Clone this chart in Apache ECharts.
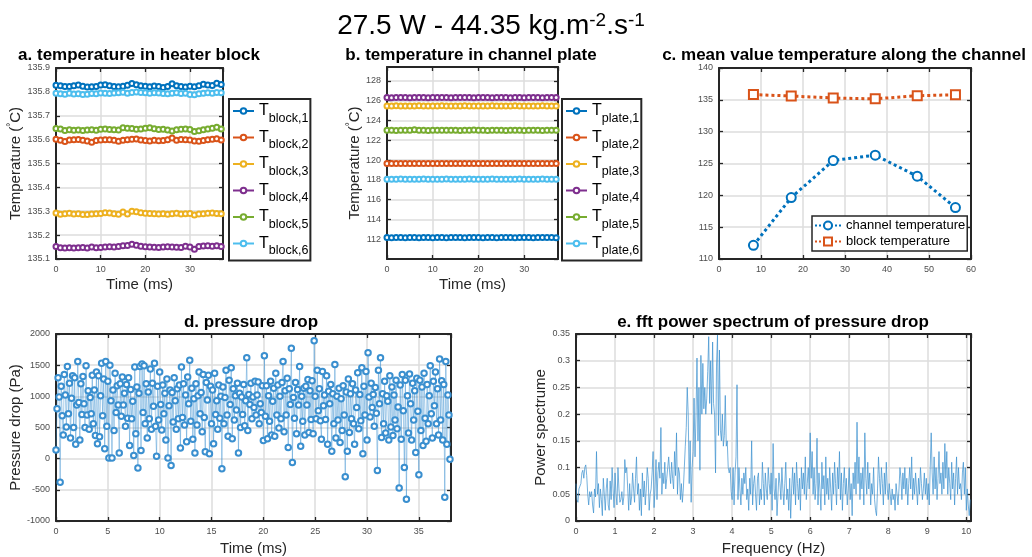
<!DOCTYPE html>
<html>
<head>
<meta charset="utf-8">
<script src="https://cdn.jsdelivr.net/npm/echarts@6/dist/echarts.min.js"></script>
<style>
  html, body { margin: 0; padding: 0; background: #ffffff; }
  #chart { width: 1032px; height: 557px; }
</style>
</head>
<body>
<div id="chart"></div>
<script>
// ---------- data ----------
const sampleTimesMs = [0,1,2,3,4,5,6,7,8,9,10,11,12,13,14,15,16,17,18,19,20,21,22,23,24,25,26,27,28,29,30,31,32,33,34,35,36,37];

const blockNames = ['block,1','block,2','block,3','block,4','block,5','block,6'];
const blockT1 = [135.828,135.826,135.823,135.822,135.826,135.829,135.824,135.820,135.821,135.823,135.829,135.830,135.826,135.823,135.821,135.824,135.828,135.835,135.830,135.826,135.824,135.821,135.825,135.822,135.818,135.822,135.834,135.826,135.822,135.820,135.824,135.821,135.826,135.832,135.829,135.827,135.836,135.831];
const blockT2 = [135.602,135.597,135.592,135.598,135.600,135.601,135.597,135.594,135.589,135.596,135.598,135.600,135.600,135.597,135.593,135.597,135.599,135.602,135.603,135.598,135.596,135.594,135.597,135.595,135.596,135.600,135.607,135.597,135.601,135.599,135.598,135.594,135.593,135.596,135.599,135.602,135.604,135.598];
const blockT3 = [135.293,135.287,135.290,135.292,135.289,135.290,135.286,135.286,135.288,135.290,135.291,135.294,135.293,135.290,135.287,135.297,135.289,135.300,135.298,135.294,135.292,135.291,135.290,135.288,135.290,135.287,135.290,135.292,135.288,135.290,135.291,135.284,135.289,135.290,135.292,135.293,135.291,135.290];
const blockT4 = [135.152,135.147,135.146,135.147,135.146,135.147,135.148,135.146,135.150,135.147,135.148,135.150,135.151,135.150,135.152,135.155,135.157,135.162,135.158,135.153,135.151,135.150,135.149,135.148,135.150,135.151,135.150,135.149,135.148,135.153,135.150,135.141,135.152,135.154,135.155,135.153,135.155,135.152];
const blockT5 = [135.647,135.645,135.638,135.641,135.639,135.640,135.638,135.640,135.641,135.639,135.643,135.644,135.642,135.641,135.640,135.650,135.648,135.647,135.643,135.645,135.648,135.650,135.646,135.642,135.643,135.640,135.636,135.641,135.643,135.645,135.642,135.634,135.637,135.641,135.645,135.648,135.652,135.645];
const blockT6 = [135.794,135.792,135.790,135.794,135.791,135.792,135.789,135.790,135.793,135.792,135.795,135.794,135.793,135.795,135.796,135.798,135.794,135.797,135.799,135.797,135.796,135.794,135.796,135.795,135.793,135.792,135.794,135.796,135.793,135.794,135.789,135.788,135.792,135.794,135.796,135.794,135.797,135.796];

const plateNames = ['plate,1','plate,2','plate,3','plate,4','plate,5','plate,6'];
const plateT1 = [112.16,112.15,112.17,112.16,112.14,112.16,112.17,112.15,112.16,112.16,112.15,112.17,112.16,112.15,112.16,112.17,112.16,112.15,112.16,112.17,112.16,112.15,112.16,112.16,112.15,112.17,112.16,112.16,112.15,112.16,112.17,112.16,112.15,112.16,112.16,112.17,112.16,112.15];
const plateT2 = [119.66,119.65,119.64,119.66,119.65,119.66,119.65,119.64,119.65,119.66,119.65,119.65,119.66,119.64,119.65,119.66,119.65,119.65,119.66,119.65,119.64,119.65,119.66,119.65,119.65,119.64,119.66,119.65,119.65,119.66,119.65,119.64,119.65,119.66,119.65,119.65,119.66,119.65];
const plateT3 = [125.47,125.46,125.48,125.47,125.47,125.46,125.47,125.48,125.47,125.46,125.47,125.47,125.48,125.47,125.46,125.47,125.47,125.48,125.47,125.46,125.47,125.47,125.46,125.48,125.47,125.47,125.46,125.47,125.48,125.47,125.47,125.46,125.47,125.47,125.48,125.47,125.46,125.47];
const plateT4 = [126.31,126.30,126.32,126.31,126.31,126.30,126.31,126.32,126.31,126.30,126.31,126.32,126.31,126.31,126.30,126.31,126.32,126.31,126.31,126.30,126.32,126.31,126.31,126.30,126.31,126.31,126.32,126.30,126.31,126.31,126.30,126.32,126.31,126.31,126.30,126.31,126.32,126.31];
const plateT5 = [123.00,123.01,122.99,123.00,123.02,123.01,123.05,123.02,123.00,122.99,123.00,123.01,123.00,123.02,123.01,123.00,122.99,123.01,123.02,123.03,123.01,123.00,122.99,123.00,123.01,123.00,122.99,123.01,123.00,123.02,122.99,123.00,123.01,123.00,122.99,123.01,123.00,123.00];
const plateT6 = [118.07,118.06,118.07,118.08,118.07,118.06,118.07,118.07,118.08,118.06,118.07,118.07,118.06,118.08,118.07,118.07,118.06,118.07,118.08,118.07,118.06,118.07,118.07,118.08,118.07,118.06,118.07,118.07,118.06,118.08,118.07,118.07,118.06,118.07,118.08,118.07,118.06,118.07];

// positions along the channel (mm) and mean temperatures there
const channelPositions = [8.2, 17.2, 27.2, 37.2, 47.2, 56.3];
const channelMeanTemp = [112.15, 119.65, 125.47, 126.31, 123.00, 118.07];
const blockMeanTemp = [135.826, 135.598, 135.290, 135.151, 135.643, 135.794];

// pressure drop samples (Pa), one every PRESSURE_STEP_MS
const PRESSURE_STEP_MS = 0.1;
const pressureDropPa = [
  140,800,1300,990,-380,1160,690,380,1350,1020,510,1480,720,1210,330,970,1330,500,1300,230,
  860,1560,900,300,1200,710,1320,880,500,1490,700,1090,470,980,720,1340,560,1100,370,1390,
  240,1330,350,1010,1530,690,1280,160,1560,520,1240,10,1500,930,10,1100,450,1370,740,1170,
  860,90,1200,680,1310,860,1050,520,1190,650,1300,210,1110,640,920,50,1470,400,1150,-150,
  1050,1480,130,1520,740,1490,560,1200,330,1070,640,1440,470,1210,840,1530,520,40,1160,620,
  1390,870,460,1180,720,1050,300,1280,10,850,1100,-110,1060,590,1300,930,470,1120,640,1180,
  170,1470,660,1200,540,1020,270,1310,880,1580,600,1130,310,960,90,1200,540,1010,1390,720,
  1060,430,1350,660,110,1220,940,1340,80,1160,560,1100,240,1370,710,930,470,1180,650,1000,
  -160,1150,560,980,1420,700,360,1260,870,1460,320,1120,620,1010,780,1210,90,1050,500,990,
  710,1190,530,930,1620,450,1030,870,1210,640,990,820,1240,700,1020,1230,560,880,740,1170,
  290,1650,680,1170,320,1010,600,1240,380,920,1130,360,1370,700,1180,490,1000,640,1220,1560,
  430,1090,700,1290,180,1120,870,1770,-60,980,650,1220,400,1110,860,1480,200,1000,600,1130,
  380,1160,860,1270,420,1090,630,1250,400,1890,1000,640,1420,770,1120,610,310,1400,850,1020,
  630,1330,230,1080,880,1190,120,1040,560,1510,330,1000,620,1130,260,960,450,1170,700,-290,
  1070,120,1280,420,1040,640,1200,560,230,1100,820,1380,480,1030,610,1460,80,1160,700,1400,
  300,1700,990,670,1210,820,1030,520,1140,730,-190,1420,880,1620,340,1040,560,1240,410,1010,
  920,300,1330,510,1150,370,1020,620,1260,480,830,-470,1180,310,1350,770,-140,1260,-650,1010,
  410,1360,880,300,1210,620,1090,100,1290,760,-260,1260,450,1150,210,1370,650,280,1190,560,
  1010,1490,720,330,1240,850,1390,560,1120,380,1600,620,1250,300,1190,-620,1560,230,1020,700,
  -10
];

// power spectrum of the pressure drop, one bin every FFT_STEP_HZ
const FFT_STEP_HZ = 0.025;
const powerSpectrum = [
  0.07,0.04,0.035,0.06,0.065,0.07,0.09,0.095,0.08,0.1,0.105,0.085,0.05,0.03,0.055,0.045,0.055,0.03,0.015,0.06,
  0.045,0.13,0.05,0.07,0.025,0.06,0.04,0.01,0.08,0.05,0.02,0.06,0.08,0.03,0.02,0.075,0.04,0.1,0.06,0.025,
  0.09,0.05,0.03,0.1,0.06,0.035,0.04,0.055,0.03,0.045,0.115,0.09,0.1,0.06,0.02,0.07,0.03,0.045,0.09,0.06,
  0.035,0.08,0.12,0.05,0.07,0.02,0.06,0.01,0.09,0.045,0.075,0.03,0.06,0.1,0.08,0.02,0.05,0.06,0.09,0.13,
  0.025,0.06,0.115,0.04,0.09,0.11,0.08,0.175,0.05,0.09,0.07,0.11,0.06,0.08,0.1,0.12,0.09,0.07,0.11,0.08,
  0.06,0.13,0.085,0.165,0.05,0.1,0.09,0.04,0.07,0.035,0.06,0.1,0.14,0.175,0.25,0.2,0.07,0.15,0.035,0.1,
  0.13,0.23,0.12,0.2,0.305,0.15,0.25,0.095,0.31,0.2,0.295,0.21,0.25,0.2,0.23,0.28,0.345,0.22,0.3,0.2,
  0.335,0.22,0.2,0.09,0.29,0.348,0.16,0.32,0.17,0.15,0.2,0.14,0.16,0.235,0.14,0.15,0.1,0.09,0.1,0.055,
  0.04,0.1,0.03,0.09,0.12,0.255,0.04,0.1,0.06,0.03,0.08,0.05,0.09,0.07,0.1,0.04,0.06,0.02,0.08,0.05,
  0.15,0.03,0.07,0.085,0.05,0.02,0.08,0.09,0.03,0.06,0.04,0.11,0.07,0.03,0.09,0.06,0.04,0.1,0.07,0.05,
  0.09,0.02,0.145,0.06,0.04,0.08,0.01,0.05,0.09,0.07,0.04,0.1,0.06,0.03,0.07,0.11,0.04,0.06,0.02,0.08,
  0.005,0.06,0.1,0.05,0.09,0.03,0.11,0.07,0.04,0.08,0.02,0.1,0.06,0.09,0.05,0.12,0.04,0.07,0.1,0.06,
  0.165,0.08,0.13,0.05,0.1,0.04,0.07,0.155,0.03,0.09,0.06,0.02,0.11,0.06,0.085,0.03,0.12,0.05,0.08,0.04,
  0.1,0.06,0.02,0.09,0.05,0.11,0.07,0.03,0.1,0.06,0.13,0.04,0.09,0.02,0.07,0.1,0.05,0.08,0.03,0.06,
  0.1,0.04,0.07,0.01,0.09,0.06,0.11,0.05,0.185,0.07,0.12,0.04,0.09,0.06,0.1,0.03,0.165,0.08,0.05,0.11,
  0.06,0.09,0.03,0.07,0.05,0.1,0.04,0.02,0.01,0.06,0.12,0.08,0.05,0.1,0.07,0.03,0.09,0.05,0.11,0.06,
  0.04,0.07,0.05,0.03,0.06,0.04,0.05,0.02,0.07,0.05,0.03,0.06,0.1,0.08,0.04,0.09,0.06,0.1,0.05,0.08,
  0.03,0.07,0.1,0.06,0.12,0.04,0.08,0.05,0.09,0.06,0.03,0.08,0.05,0.1,0.07,0.04,0.06,0.09,0.05,0.08,
  0.04,0.07,0.03,0.1,0.165,0.09,0.05,0.12,0.06,0.1,0.04,0.08,0.13,0.07,0.09,0.05,0.11,0.06,0.145,0.08,
  0.13,0.05,0.1,0.07,0.04,0.11,0.06,0.09,0.03,0.08,0.12,0.05,0.1,0.06,0.07,0.04,0.09,0.11,0.05,0.1,
  0.02,0.06,0.03,0.01,0.04
];

// ---------- styling ----------
const FONT = '"Liberation Sans", Arial, Helvetica, sans-serif';
const COLORS = ['#0072BD', '#D95319', '#EDB120', '#7E2F8E', '#77AC30', '#4DBEEE'];
const AXIS_DARK = '#262626';
const GRID_GRAY = '#DCDCDC';
const THIN_BLUE = '#3A8FCF';

const grids = [
  { left: 56,  top: 68,  width: 167, height: 191 },  // a
  { left: 387, top: 67,  width: 171, height: 192 },  // b
  { left: 719, top: 68,  width: 252, height: 191 },  // c
  { left: 56,  top: 334, width: 395, height: 190 },  // d
  { left: 576, top: 334, width: 395, height: 190 }   // e
];

const nameStyle = {
  fontSize: 15, fontFamily: FONT, color: AXIS_DARK,
  rich: { sup: { fontSize: 10, fontFamily: FONT, color: AXIS_DARK, padding: [0, 0, 9, 0] } }
};

function mainAxis(gridIndex, position, min, max, interval, extra) {
  return Object.assign({
    type: 'value', gridIndex, position, min, max, interval,
    axisLine: { show: true, onZero: false, lineStyle: { color: AXIS_DARK, width: 2 } },
    axisTick: { show: true, inside: true, length: 4, lineStyle: { color: AXIS_DARK, width: 1.3 } },
    splitLine: { show: true, lineStyle: { color: GRID_GRAY, width: 1.5 } },
    axisLabel: { show: true, fontSize: 9, color: '#4D4D4D', fontFamily: FONT, margin: 6,
                 formatter: v => String(+v.toFixed(6)) },
    nameLocation: 'middle',
    nameTextStyle: nameStyle
  }, extra || {});
}
function mirrorAxis(gridIndex, position, min, max, interval) {
  return {
    type: 'value', gridIndex, position, min, max, interval,
    axisLine: { show: true, onZero: false, lineStyle: { color: AXIS_DARK, width: 2 } },
    axisTick: { show: true, inside: true, length: 4, lineStyle: { color: AXIS_DARK, width: 1.3 } },
    splitLine: { show: false },
    axisLabel: { show: false }
  };
}
function hideEnds(axis, hideMin, hideMax) {
  axis.axisLabel.showMinLabel = !hideMin;
  axis.axisLabel.showMaxLabel = !hideMax;
  return axis;
}

const xAxes = [], yAxes = [];
// a. heater block
xAxes.push(hideEnds(mainAxis(0, 'bottom', 0, 37.4, 10, { name: 'Time (ms)', nameGap: 18 }), false, true), mirrorAxis(0, 'top', 0, 37.4, 10));
yAxes.push(mainAxis(0, 'left', 135.1, 135.9, 0.1, { name: 'Temperature ({sup|°}C)', nameGap: 20 }), mirrorAxis(0, 'right', 135.1, 135.9, 0.1));
// b. channel plate
xAxes.push(hideEnds(mainAxis(1, 'bottom', 0, 37.4, 10, { name: 'Time (ms)', nameGap: 18 }), false, true), mirrorAxis(1, 'top', 0, 37.4, 10));
yAxes.push(hideEnds(mainAxis(1, 'left', 110, 129.4, 2, { name: 'Temperature ({sup|°}C)', nameGap: 12 }), true, true), mirrorAxis(1, 'right', 110, 129.4, 2));
// c. mean along channel
xAxes.push(mainAxis(2, 'bottom', 0, 60, 10), mirrorAxis(2, 'top', 0, 60, 10));
yAxes.push(mainAxis(2, 'left', 110, 140, 5), mirrorAxis(2, 'right', 110, 140, 5));
// d. pressure drop
xAxes.push(hideEnds(mainAxis(3, 'bottom', 0, 38.1, 5, { name: 'Time (ms)', nameGap: 20 }), false, true), mirrorAxis(3, 'top', 0, 38.1, 5));
yAxes.push(mainAxis(3, 'left', -1000, 2000, 500, { name: 'Pressure drop (Pa)', nameGap: 18 }), mirrorAxis(3, 'right', -1000, 2000, 500));
// e. spectrum
xAxes.push(hideEnds(mainAxis(4, 'bottom', 0, 10.12, 1, { name: 'Frequency (Hz)', nameGap: 20 }), false, true), mirrorAxis(4, 'top', 0, 10.12, 1));
yAxes.push(mainAxis(4, 'left', 0, 0.35, 0.05, { name: 'Power spectrume', nameGap: 16 }), mirrorAxis(4, 'right', 0, 0.35, 0.05));

// ---------- series ----------
const series = [];
const blockSeries = [blockT1, blockT2, blockT3, blockT4, blockT5, blockT6];
const plateSeries = [plateT1, plateT2, plateT3, plateT4, plateT5, plateT6];

function traceSeries(name, values, k, axisIdx) {
  return {
    type: 'line', name, xAxisIndex: axisIdx * 2, yAxisIndex: axisIdx * 2,
    data: sampleTimesMs.map((t, i) => [t, values[i]]),
    symbol: 'emptyCircle', symbolSize: 5, showAllSymbol: true,
    lineStyle: { width: 1.5, color: COLORS[k] },
    itemStyle: { color: COLORS[k], borderColor: COLORS[k], borderWidth: 1.2 },
    emphasis: { disabled: true }
  };
}
blockSeries.forEach((v, k) => series.push(traceSeries(blockNames[k], v, k, 0)));
plateSeries.forEach((v, k) => series.push(traceSeries(plateNames[k], v, k, 1)));

series.push({
  type: 'line', name: 'channel temperature', xAxisIndex: 4, yAxisIndex: 4,
  data: channelPositions.map((x, i) => [x, channelMeanTemp[i]]),
  symbol: 'emptyCircle', symbolSize: 9,
  lineStyle: { width: 3, type: 'dotted', color: COLORS[0] },
  itemStyle: { color: COLORS[0], borderColor: COLORS[0], borderWidth: 3 },
  emphasis: { disabled: true }
});
series.push({
  type: 'line', name: 'block temperature', xAxisIndex: 4, yAxisIndex: 4,
  data: channelPositions.map((x, i) => [x, blockMeanTemp[i]]),
  symbol: 'emptyRect', symbolSize: 9,
  lineStyle: { width: 3, type: 'dotted', color: COLORS[1] },
  itemStyle: { color: COLORS[1], borderColor: COLORS[1], borderWidth: 3 },
  emphasis: { disabled: true }
});

series.push({
  type: 'line', name: 'pressure drop', xAxisIndex: 6, yAxisIndex: 6,
  data: pressureDropPa.map((v, i) => [i * PRESSURE_STEP_MS, v]),
  symbol: 'emptyCircle', symbolSize: 5.5, showAllSymbol: true,
  lineStyle: { width: 0.45, color: THIN_BLUE },
  itemStyle: { color: THIN_BLUE, borderColor: THIN_BLUE, borderWidth: 0.5 },
  emphasis: { disabled: true }
});
series.push({
  type: 'line', name: 'power spectrum', xAxisIndex: 8, yAxisIndex: 8,
  data: powerSpectrum.map((v, i) => [i * FFT_STEP_HZ, v]),
  symbol: 'none',
  lineStyle: { width: 0.7, color: THIN_BLUE },
  emphasis: { disabled: true }
});

// ---------- legends ----------
const legendBase = {
  orient: 'vertical', backgroundColor: '#ffffff',
  borderColor: AXIS_DARK, borderWidth: 2, borderRadius: 0,
  itemWidth: 21, itemHeight: 7, itemGap: 4.5, padding: [4, 2, 3, 3],
  selectedMode: false,
  formatter: name => '{t|T}{s|' + name + '}',
  textStyle: {
    color: '#000', fontFamily: FONT,
    rich: {
      t: { fontSize: 16, fontFamily: FONT, color: '#000' },
      s: { fontSize: 12.5, fontFamily: FONT, color: '#000', padding: [15, 0, 0, 0] }
    }
  }
};
const legends = [
  Object.assign({}, legendBase, { left: 229, top: 99, data: blockNames }),
  Object.assign({}, legendBase, { left: 562, top: 99, data: plateNames }),
  {
    orient: 'vertical', left: 812, top: 216, backgroundColor: '#ffffff',
    borderColor: AXIS_DARK, borderWidth: 1.5, borderRadius: 0,
    itemWidth: 26, itemHeight: 10, itemGap: 3, padding: [3, 2, 3, 2],
    selectedMode: false,
    data: ['channel temperature', 'block temperature'],
    textStyle: { color: '#000', fontFamily: FONT, fontSize: 13 }
  }
];

// ---------- titles ----------
const subTitle = (text, cx, top) => ({
  text, left: cx, top, textAlign: 'center', padding: 0,
  textStyle: { fontSize: 17, fontWeight: 'bold', fontFamily: FONT, color: '#000' }
});
const titles = [
  {
    text: '{m|27.5 W - 44.35 kg.m}{s|-2}{m|.s}{s|-1}',
    left: 491, top: 11, textAlign: 'center', padding: 0,
    textStyle: {
      fontWeight: 'normal',
      rich: {
        m: { fontSize: 28, fontWeight: 'normal', fontFamily: FONT, color: '#000' },
        s: { fontSize: 19, fontWeight: 'normal', fontFamily: FONT, color: '#000', padding: [0, 0, 12, 0] }
      }
    }
  },
  subTitle('a. temperature in heater block', 139, 47),
  subTitle('b. temperature in channel plate', 471, 47),
  subTitle('c. mean value temperature along the channel', 844, 47),
  subTitle('d. pressure drop', 251, 314),
  subTitle('e. fft power spectrum of pressure drop', 773, 314)
];

const chart = echarts.init(document.getElementById('chart'), null, { renderer: 'canvas' });
chart.setOption({
  animation: false,
  backgroundColor: '#ffffff',
  title: titles,
  legend: legends,
  grid: grids,
  xAxis: xAxes,
  yAxis: yAxes,
  series
});
</script>
</body>
</html>
